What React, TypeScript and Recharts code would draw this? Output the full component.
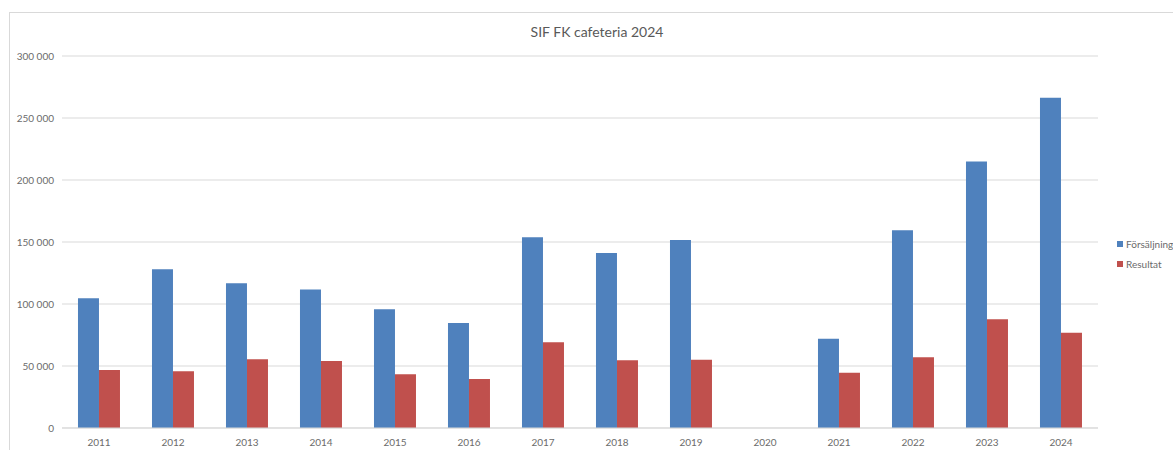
import { BarChart, Bar, XAxis, YAxis, CartesianGrid } from 'recharts';

const years = ['2011', '2012', '2013', '2014', '2015', '2016', '2017', '2018', '2019', '2020', '2021', '2022', '2023', '2024'];
const forsaljning = [104600, 128000, 116700, 111600, 95700, 84700, 153800, 141100, 151600, 0, 72000, 159400, 215000, 266400];
const resultat = [46800, 45700, 55400, 54000, 43300, 39500, 69100, 54600, 55100, 0, 44600, 57000, 87700, 76900];
const yTicks = [0, 50000, 100000, 150000, 200000, 250000, 300000];

const BLUE = '#4f81bd';
const RED = '#c0504d';
const TEXT = '#6b6b6b';
const FONT = 'Lato, "Open Sans", sans-serif';

const data = years.map((y, i) => ({ year: y, forsaljning: forsaljning[i], resultat: resultat[i] }));

// non-breaking space so the label doesn't wrap
const fmt = (v: number) => (v === 0 ? '0' : v.toString().replace(/\B(?=(\d{3})+(?!\d))/g, '\u00a0'));

export default function App() {
  return (
    <div
      style={{
        position: 'absolute',
        left: 9,
        top: 12,
        width: 1164,
        height: 438,
        borderTop: '1px solid #d9d9d9',
        borderLeft: '1px solid #d9d9d9',
        boxSizing: 'border-box',
        fontFamily: FONT,
        background: '#fff',
      }}
    >
      <div
        style={{
          position: 'absolute',
          left: 0,
          width: 1174,
          top: 10,
          textAlign: 'center',
          fontSize: 14,
          color: '#595959',
        }}
      >
        SIF FK cafeteria 2024
      </div>
      <BarChart
        width={1163}
        height={437}
        data={data}
        margin={{ top: 43, right: 75, bottom: 0, left: 0 }}
        barCategoryGap="21.6%"
        barGap={0}
      >
        <CartesianGrid vertical={false} stroke="#d9d9d9" />
        <XAxis
          dataKey="year"
          height={22}
          tickLine={false}
          axisLine={{ stroke: '#d9d9d9' }}
          tick={{ fill: TEXT, fontSize: 10, fontFamily: FONT }}
          tickMargin={5}
          interval={0}
        />
        <YAxis
          width={52}
          domain={[0, 300000]}
          ticks={yTicks}
          tickFormatter={fmt}
          axisLine={false}
          tickLine={false}
          tick={{ fill: TEXT, fontSize: 10, fontFamily: FONT }}
        />
        <Bar dataKey="forsaljning" name="Försäljning" fill={BLUE} isAnimationActive={false} />
        <Bar dataKey="resultat" name="Resultat" fill={RED} isAnimationActive={false} />
      </BarChart>
      <div style={{ position: 'absolute', left: 1107, top: 221, fontSize: 10, color: TEXT, lineHeight: '20px' }}>
        {[
          { name: 'Försäljning', color: BLUE },
          { name: 'Resultat', color: RED },
        ].map(d => (
          <div key={d.name} style={{ display: 'flex', alignItems: 'center', gap: 3 }}>
            <div style={{ width: 6, height: 6, background: d.color }} />
            <span>{d.name}</span>
          </div>
        ))}
      </div>
    </div>
  );
}
